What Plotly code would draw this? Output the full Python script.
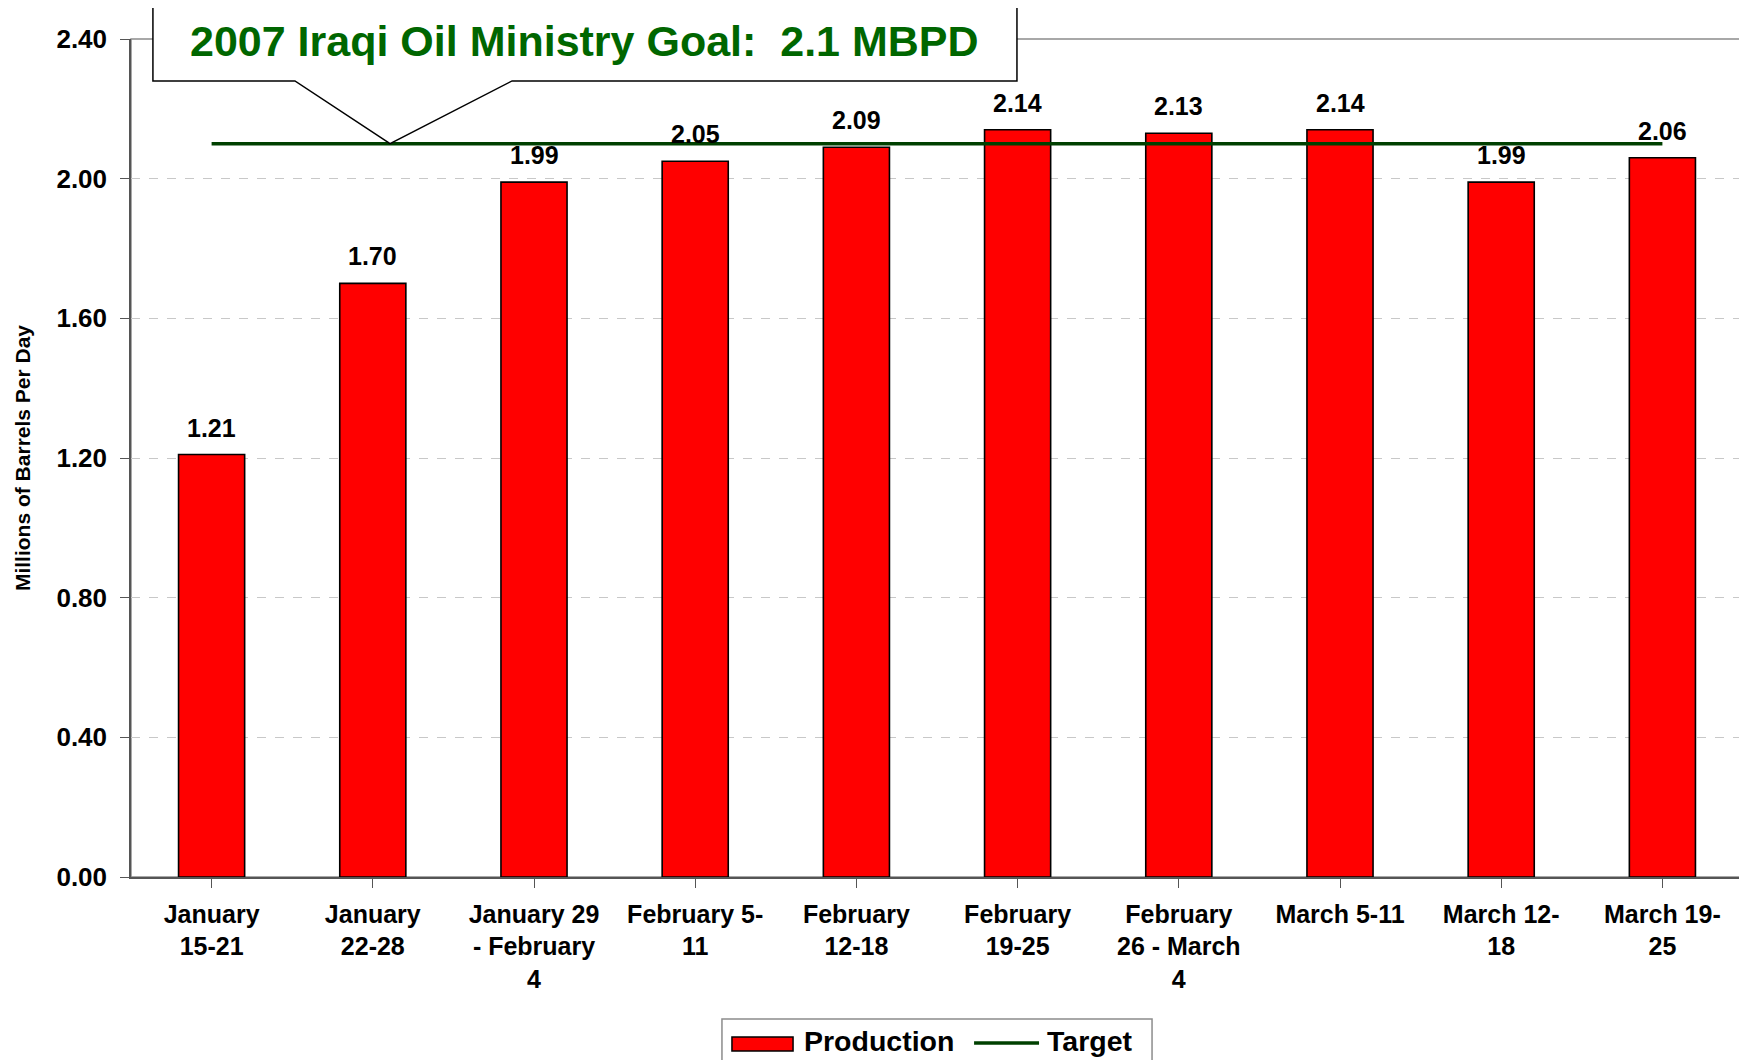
import plotly.graph_objects as go

categories = [
    "January<br>15-21", "January<br>22-28", "January 29<br>- February<br>4",
    "February 5-<br>11", "February<br>12-18", "February<br>19-25",
    "February<br>26 - March<br>4", "March 5-11", "March 12-<br>18", "March 19-<br>25",
]
production = [1.21, 1.70, 1.99, 2.05, 2.09, 2.14, 2.13, 2.14, 1.99, 2.06]
target_value = 2.1
target = [target_value] * len(categories)
y_ticks = [0.0, 0.4, 0.8, 1.2, 1.6, 2.0, 2.4]
y_max = 2.4
callout_text = "2007 Iraqi Oil Ministry Goal:\u00a0 2.1 MBPD"
legend_names = ["Production", "Target"]

FONT = "Liberation Sans, Arial, sans-serif"
BAR_RED = "#FF0000"
TARGET_GREEN = "#004000"
idx = list(range(len(categories)))

fig = go.Figure()
fig.add_trace(go.Bar(
    x=idx, y=production, name=legend_names[0], width=0.41, showlegend=False,
    marker=dict(color=BAR_RED, line=dict(color="#000000", width=1.6)),
))
fig.add_trace(go.Scatter(
    x=idx, y=target, name=legend_names[1], mode="lines", showlegend=False,
    line=dict(color=TARGET_GREEN, width=3.6),
))

# data labels
for i, v in zip(idx, production):
    fig.add_annotation(x=i, y=v, text=f"{v:.2f}", showarrow=False, xref="x", yref="y",
                       yshift=27, yanchor="middle",
                       font=dict(family=FONT, size=25, color="black", weight=700))

# plot border (top/right gray)
fig.add_shape(type="rect", xref="paper", yref="paper", x0=0, x1=1, y0=0, y1=1,
              line=dict(color="#8c8c8c", width=1.5), layer="below")

# callout box with pointer
bx0, bx1 = 0.0136, 0.5496
by0, by1 = 0.950, 1.0412
p1, ptip, p2 = 0.1017, 0.1607, 0.2364
tip_y = target_value / y_max
path = (f"M{bx0},{by0} L{p1},{by0} L{ptip},{tip_y} L{p2},{by0} L{bx1},{by0} "
        f"L{bx1},{by1} L{bx0},{by1} Z")
fig.add_shape(type="path", xref="paper", yref="paper", path=path,
              fillcolor="white", line=dict(color="black", width=1.5), layer="above")
fig.add_annotation(x=0.2816, y=0.9976, xref="paper", yref="paper", text=callout_text,
                   showarrow=False, xanchor="center", yanchor="middle",
                   font=dict(family=FONT, size=43, color="#006600", weight=700))

# legend (drawn manually to match the wide swatch)
fig.add_shape(type="rect", xref="paper", yref="paper", x0=0.3666, x1=0.6334,
              y0=-0.2303, y1=-0.1695, line=dict(color="#8c8c8c", width=1.5),
              fillcolor="white", layer="above")
fig.add_shape(type="rect", xref="paper", yref="paper", x0=0.3728, x1=0.4107,
              y0=-0.2076, y1=-0.1909, line=dict(color="black", width=1.5),
              fillcolor=BAR_RED, layer="above")
fig.add_shape(type="line", xref="paper", yref="paper", x0=0.5230, x1=0.5633,
              y0=-0.1981, y1=-0.1981, line=dict(color=TARGET_GREEN, width=3.6), layer="above")
for xpos, name in zip([0.4160, 0.5670], legend_names):
    fig.add_annotation(x=xpos, y=-0.1960, xref="paper", yref="paper", text=name,
                       showarrow=False, xanchor="left", yanchor="middle",
                       font=dict(family=FONT, size=28.5, color="black", weight=700))

fig.update_layout(
    width=1739, height=1052,
    margin=dict(l=123, r=4, t=31, b=183, autoexpand=False),
    paper_bgcolor="white", plot_bgcolor="white",
    font=dict(family=FONT, color="black"),
    bargap=0.59,
    showlegend=False,
)
fig.update_xaxes(
    range=[-0.5, len(categories) - 0.5], tickmode="array", tickvals=idx, ticktext=categories,
    tickangle=0, tickson="boundaries", ticks="outside", ticklen=9, tickcolor="#555555",
    showline=True, linecolor="#555555", linewidth=1.5, showgrid=False, zeroline=False,
    tickfont=dict(family=FONT, size=25, color="black", weight=700), ticklabelstandoff=5,
)
fig.update_yaxes(
    range=[0, y_max], tickmode="array", tickvals=y_ticks,
    ticktext=[f"{t:.2f}" for t in y_ticks],
    ticks="outside", ticklen=9, tickcolor="#555555",
    showline=True, linecolor="#555555", linewidth=1.5, zeroline=False,
    showgrid=True, gridcolor="#c8c8c8", griddash="dash", gridwidth=1,
    tickfont=dict(family=FONT, size=26, color="black", weight=700), ticklabelstandoff=8,
    title=dict(text="Millions of Barrels Per Day", standoff=20,
               font=dict(family=FONT, size=21, color="black", weight=700)),
)

fig.write_html("out.html")
